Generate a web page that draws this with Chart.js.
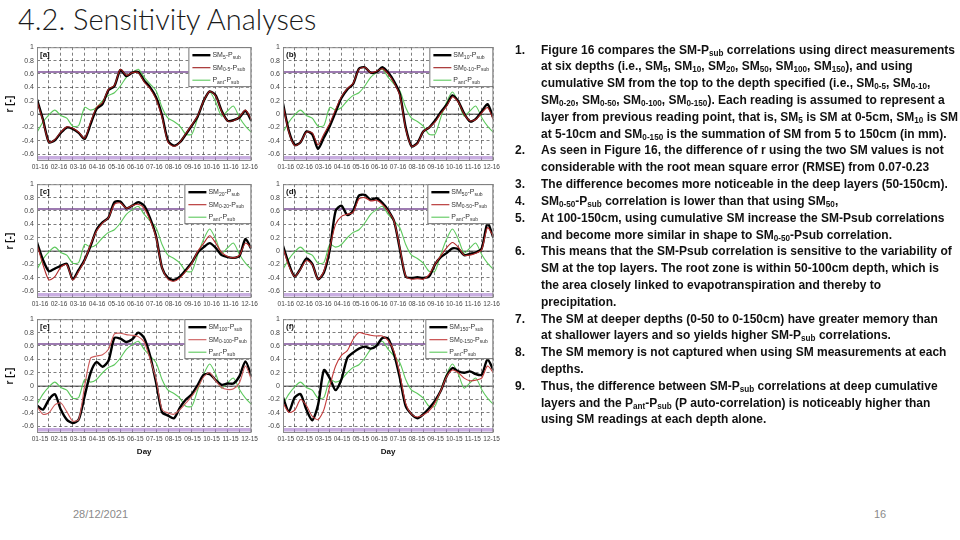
<!DOCTYPE html>
<html>
<head>
<meta charset="utf-8">
<script src="https://cdn.jsdelivr.net/npm/chart.js@4.4.0/dist/chart.umd.min.js"></script>
<style>
  body { margin: 0; width: 960px; height: 540px; background: #fff; position: relative; overflow: hidden; }
  .title { position: absolute; left: 18px; top: 1px; font-family: Lato, 'Open Sans', sans-serif; font-weight: 300; font-size: 29px; color: #1a1a1a; white-space: nowrap; }
  .panel { position: absolute; }
  .notes { position: absolute; left: 541px; top: 41.6px; font-family: 'Liberation Sans', sans-serif; font-weight: bold; font-size: 13.5px; line-height: 16.82px; color: #111; white-space: nowrap; transform-origin: 0 0; }
  .notes div { position: relative; height: 16.82px; }
  .notes .n { position: absolute; left: -26px; }
  .notes sub { font-size: 68%; vertical-align: -2px; line-height: 0; }
  .foot { position: absolute; top: 508px; font-family: 'Liberation Sans', sans-serif; font-size: 11px; color: #8a8a8a; }
</style>
</head>
<body>
<div class="title">4.2. Sensitivity Analyses</div>

<canvas id="pa" class="panel" width="260" height="132" style="left:0px;top:40px"></canvas>
<canvas id="pb" class="panel" width="240" height="132" style="left:262px;top:40px"></canvas>
<canvas id="pc" class="panel" width="260" height="132" style="left:0px;top:177px"></canvas>
<canvas id="pd" class="panel" width="240" height="132" style="left:262px;top:177px"></canvas>
<canvas id="pe" class="panel" width="260" height="145" style="left:0px;top:312px"></canvas>
<canvas id="pf" class="panel" width="240" height="145" style="left:262px;top:312px"></canvas>

<div class="notes" id="notes">
  <div><span class="n">1.</span><span class="t">Figure 16 compares the SM-P<sub>sub</sub> correlations using direct measurements</span></div>
  <div><span class="t">at six depths (i.e., SM<sub>5</sub>, SM<sub>10</sub>, SM<sub>20</sub>, SM<sub>50</sub>, SM<sub>100</sub>, SM<sub>150</sub>), and using</span></div>
  <div><span class="t">cumulative SM from the top to the depth specified (i.e., SM<sub>0-5</sub>, SM<sub>0-10</sub>,</span></div>
  <div><span class="t">SM<sub>0-20</sub>, SM<sub>0-50</sub>, SM<sub>0-100</sub>, SM<sub>0-150</sub>). Each reading is assumed to represent a</span></div>
  <div><span class="t" id="fitLine">layer from previous reading point, that is, SM<sub>5</sub> is SM at 0-5cm, SM<sub>10</sub> is SM</span></div>
  <div><span class="t">at 5-10cm and SM<sub>0-150</sub> is the summation of SM from 5 to 150cm (in mm).</span></div>
  <div><span class="n">2.</span><span class="t">As seen in Figure 16, the difference of r using the two SM values is not</span></div>
  <div><span class="t">considerable with the root mean square error (RMSE) from 0.07-0.23</span></div>
  <div><span class="n">3.</span><span class="t">The difference becomes more noticeable in the deep layers (50-150cm).</span></div>
  <div><span class="n">4.</span><span class="t">SM<sub>0-50</sub>-P<sub>sub</sub> correlation is lower than that using SM<sub>50</sub>,</span></div>
  <div><span class="n">5.</span><span class="t">At 100-150cm, using cumulative SM increase the SM-Psub correlations</span></div>
  <div><span class="t">and become more similar in shape to SM<sub>0-50</sub>-Psub correlation.</span></div>
  <div><span class="n">6.</span><span class="t">This means that the SM-Psub correlation is sensitive to the variability of</span></div>
  <div><span class="t">SM at the top layers. The root zone is within 50-100cm depth, which is</span></div>
  <div><span class="t">the area closely linked to evapotranspiration and thereby to</span></div>
  <div><span class="t">precipitation.</span></div>
  <div><span class="n">7.</span><span class="t">The SM at deeper depths (0-50 to 0-150cm) have greater memory than</span></div>
  <div><span class="t">at shallower layers and so yields higher SM-P<sub>sub</sub> correlations.</span></div>
  <div><span class="n">8.</span><span class="t">The SM memory is not captured when using SM measurements at each</span></div>
  <div><span class="t">depths.</span></div>
  <div><span class="n">9.</span><span class="t">Thus, the difference between SM-P<sub>sub</sub> correlations at deep cumulative</span></div>
  <div><span class="t">layers and the P<sub>ant</sub>-P<sub>sub</sub> (P auto-correlation) is noticeably higher than</span></div>
  <div><span class="t">using SM readings at each depth alone.</span></div>
</div>

<div class="foot" style="left:73px">28/12/2021</div>
<div class="foot" style="left:874px">16</div>

<script>
// squeeze the bold notes so the longest line spans the same width as on the slide
(function () {
  const notes = document.getElementById('notes');
  const w = document.getElementById('fitLine').getBoundingClientRect().width;
  const s = 417 / w;
  notes.style.transform = 'scaleX(' + s + ')';
  notes.querySelectorAll('.n').forEach(n => { n.style.left = (-26 / s) + 'px'; });
})();

// day of year for every sample (10-day steps)
const days = [0,10,20,30,40,50,60,70,80,90,100,110,120,130,140,150,160,170,180,
              190,200,210,220,230,240,250,260,270,280,290,300,310,320,330,340,350,360];

const monthTicks = [5,37,69,101,133,165,197,229,261,293,325,357];
const monthLabels16 = ['01-16','02-16','03-16','04-16','05-16','06-16','07-16','08-16','09-16','10-16','11-16','12-16'];
const monthLabels15 = ['01-15','02-15','03-15','04-15','05-15','06-15','07-15','08-15','09-15','10-15','11-15','12-15'];
const yTicks = [-0.6,-0.4,-0.2,0,0.2,0.4,0.6,0.8,1];

// significance levels
const sigUpper = 0.63;
const sigLower = -0.65;

// P_ant - P_sub (same in every panel)
const pantPsub = [-0.27,-0.12,-0.01,0.06,-0.02,-0.06,-0.18,-0.17,0.1,0.06,0.1,0.2,0.28,0.32,0.42,0.55,0.62,0.67,0.55,
                  0.45,0.35,0.1,-0.06,-0.11,-0.18,-0.3,-0.3,-0.05,0.18,0.33,0.18,-0.03,0.05,0.12,-0.05,-0.18,-0.27];

// SM at single depth - P_sub
const sm5   = [0.22,-0.08,-0.42,-0.39,-0.28,-0.2,-0.22,-0.28,-0.37,-0.15,0.08,0.15,0.36,0.42,0.66,0.57,0.62,0.63,0.5,
               0.4,0.25,-0.02,-0.4,-0.47,-0.42,-0.3,-0.17,-0.03,0.2,0.34,0.28,0.05,-0.1,-0.09,-0.05,0.05,-0.1];
const sm10  = [0.16,-0.25,-0.46,-0.42,-0.26,-0.3,-0.52,-0.35,-0.18,0.03,0.24,0.37,0.45,0.68,0.7,0.62,0.63,0.7,0.62,
               0.49,0.3,-0.2,-0.48,-0.43,-0.26,-0.2,-0.1,0.03,0.14,0.28,0.19,0.01,-0.11,-0.07,0.04,0.15,-0.06];
const sm20  = [0.13,-0.13,-0.3,-0.26,-0.22,-0.19,-0.42,-0.28,-0.13,0.08,0.32,0.43,0.5,0.73,0.74,0.64,0.68,0.73,0.68,
               0.49,0.22,-0.25,-0.4,-0.43,-0.38,-0.28,-0.17,-0.02,0.06,0.12,0.05,-0.06,-0.09,-0.1,-0.07,0.18,0.03];
const sm50  = [0.08,-0.19,-0.38,-0.26,-0.11,-0.19,-0.42,-0.32,0.02,0.6,0.68,0.54,0.6,0.83,0.84,0.77,0.79,0.72,0.61,
               0.45,0.03,-0.38,-0.4,-0.39,-0.4,-0.38,-0.2,-0.09,-0.03,0.04,0.03,-0.06,-0.04,-0.02,0.04,0.42,0.2];
const sm100 = [-0.29,-0.35,-0.2,-0.12,-0.35,-0.5,-0.55,-0.5,-0.15,0.2,0.36,0.29,0.38,0.72,0.71,0.66,0.7,0.8,0.72,
               0.45,0.05,-0.39,-0.44,-0.48,-0.32,-0.2,-0.12,0.02,0.17,0.18,0.09,0.02,0.04,0.04,0.15,0.37,0.15];
const sm150 = [-0.17,-0.38,-0.17,-0.12,-0.35,-0.51,-0.28,0.24,0.12,-0.06,0.1,0.42,0.5,0.56,0.59,0.56,0.6,0.72,0.71,
               0.48,0.12,-0.3,-0.42,-0.48,-0.42,-0.33,-0.22,-0.07,0.15,0.27,0.22,0.2,0.22,0.18,0.17,0.4,0.24];

// cumulative SM (0 to depth) - P_sub
const sm0to5   = [0.2,-0.1,-0.42,-0.38,-0.27,-0.19,-0.21,-0.27,-0.36,-0.12,0.1,0.17,0.37,0.43,0.67,0.58,0.62,0.62,0.48,
                  0.38,0.22,-0.05,-0.42,-0.48,-0.42,-0.29,-0.16,-0.02,0.2,0.34,0.27,0.04,-0.1,-0.1,-0.04,0.06,-0.08];
const sm0to10  = [0.14,-0.27,-0.47,-0.42,-0.27,-0.28,-0.46,-0.3,-0.14,0.07,0.26,0.38,0.46,0.67,0.7,0.62,0.64,0.68,0.6,
                  0.47,0.28,-0.22,-0.48,-0.44,-0.26,-0.2,-0.12,0.01,0.12,0.26,0.18,0.0,-0.1,-0.08,0.02,0.1,-0.08];
const sm0to20  = [0.1,-0.2,-0.43,-0.38,-0.24,-0.2,-0.43,-0.3,-0.14,0.1,0.3,0.42,0.5,0.7,0.72,0.64,0.68,0.7,0.64,
                  0.46,0.2,-0.25,-0.42,-0.45,-0.4,-0.3,-0.18,0.0,0.12,0.23,0.12,-0.02,-0.08,-0.1,-0.06,0.12,0.05];
const sm0to50  = [0.05,-0.22,-0.38,-0.27,-0.14,-0.2,-0.42,-0.3,0.05,0.4,0.52,0.55,0.58,0.78,0.8,0.75,0.76,0.7,0.6,
                  0.45,0.05,-0.37,-0.42,-0.41,-0.42,-0.35,-0.2,-0.07,0.05,0.13,0.06,-0.06,-0.06,-0.03,0.02,0.35,0.22];
const sm0to100 = [-0.3,-0.42,-0.4,-0.28,-0.25,-0.38,-0.52,-0.5,0.0,0.42,0.45,0.47,0.55,0.78,0.79,0.77,0.76,0.74,0.66,
                  0.4,0.1,-0.35,-0.4,-0.42,-0.35,-0.25,-0.15,-0.02,0.14,0.2,0.08,-0.02,-0.05,-0.04,0.05,0.3,0.1];
const sm0to150 = [-0.25,-0.39,-0.36,-0.2,-0.29,-0.45,-0.5,-0.35,0.0,0.3,0.46,0.53,0.7,0.8,0.78,0.76,0.75,0.75,0.68,
                  0.52,0.18,-0.26,-0.42,-0.46,-0.43,-0.37,-0.25,-0.07,0.14,0.24,0.2,0.12,0.08,0.09,0.12,0.3,0.2];

const panels = [
  { id: 'pa', tag: '[a]', sm: sm5,   cum: sm0to5,   smLbl: 'SM_{5}-P_{sub}',   cumLbl: 'SM_{0-5}-P_{sub}',   months: monthLabels16, left: true,  bottom: false, red: '#9c1c1c', lw: 63 },
  { id: 'pb', tag: '(b)', sm: sm10,  cum: sm0to10,  smLbl: 'SM_{10}-P_{sub}',  cumLbl: 'SM_{0-10}-P_{sub}',  months: monthLabels16, left: false, bottom: false, red: '#9c1c1c', lw: 64 },
  { id: 'pc', tag: '[c]', sm: sm20,  cum: sm0to20,  smLbl: 'SM_{20}-P_{sub}',  cumLbl: 'SM_{0-20}-P_{sub}',  months: monthLabels16, left: true,  bottom: false, red: '#b32a2a', lw: 67 },
  { id: 'pd', tag: '(d)', sm: sm50,  cum: sm0to50,  smLbl: 'SM_{50}-P_{sub}',  cumLbl: 'SM_{0-50}-P_{sub}',  months: monthLabels16, left: false, bottom: false, red: '#b32a2a', lw: 66 },
  { id: 'pe', tag: '[e]', sm: sm100, cum: sm0to100, smLbl: 'SM_{100}-P_{sub}', cumLbl: 'SM_{0-100}-P_{sub}', months: monthLabels15, left: true,  bottom: true,  red: '#cc5a5a', lw: 67 },
  { id: 'pf', tag: '(f)', sm: sm150, cum: sm0to150, smLbl: 'SM_{150}-P_{sub}', cumLbl: 'SM_{0-150}-P_{sub}', months: monthLabels15, left: false, bottom: true,  red: '#c23a3a', lw: 68 }
];

const GREEN = '#5cc85c';
const TXT = "'Liberation Sans', Arial, sans-serif";

function drawRich(ctx, str, x, y, size) {
  const parts = str.split(/(_\{[^}]*\})/).filter(Boolean);
  let cx = x;
  parts.forEach(p => {
    const sub = p.startsWith('_{');
    const t = sub ? p.slice(2, -1) : p;
    const s = sub ? size * 0.72 : size;
    ctx.font = s + 'px ' + TXT;
    ctx.fillText(t, cx, sub ? y + size * 0.3 : y);
    cx += ctx.measureText(t).width;
  });
}

const panelDecor = {
  id: 'panelDecor',
  beforeDatasetsDraw(chart) {
    const { ctx, chartArea: a, scales } = chart;
    const y0 = scales.y.getPixelForValue(0);
    ctx.save();
    ctx.strokeStyle = '#3a3a3a';
    ctx.lineWidth = 1;
    ctx.beginPath();
    ctx.moveTo(a.left, y0);
    ctx.lineTo(a.right, y0);
    ctx.stroke();
    ctx.restore();
  },
  afterDatasetsDraw(chart, args, opts) {
    const { ctx, chartArea: a } = chart;
    ctx.save();
    // frame
    ctx.strokeStyle = '#8a8a8a';
    ctx.lineWidth = 1;
    ctx.strokeRect(a.left + 0.5, a.top + 0.5, a.width - 1, a.height - 1);
    // panel tag
    ctx.fillStyle = '#111';
    ctx.font = 'bold 8px ' + TXT;
    ctx.textBaseline = 'top';
    ctx.fillText(opts.tag, a.left + 3, a.top + 4);
    // legend box
    const w = opts.legendWidth, h = 40;
    const x0 = a.right - w, yTop = a.top;
    ctx.fillStyle = '#fff';
    ctx.fillRect(x0, yTop, w, h);
    ctx.strokeStyle = '#555';
    ctx.lineWidth = 0.8;
    ctx.strokeRect(x0 + 0.5, yTop + 0.5, w - 1, h - 1);
    ctx.textBaseline = 'middle';
    opts.entries.forEach((e, i) => {
      const yy = yTop + 8 + i * 12.5;
      ctx.strokeStyle = e.color;
      ctx.lineWidth = e.width;
      ctx.beginPath();
      ctx.moveTo(x0 + 4, yy);
      ctx.lineTo(x0 + 22, yy);
      ctx.stroke();
      ctx.fillStyle = '#333';
      drawRich(ctx, e.label, x0 + 24, yy, 7);
    });
    ctx.restore();
  }
};

function pts(vals) {
  return days.map((d, i) => ({ x: d, y: vals[i] }));
}

function flat(v) {
  return [{ x: days[0], y: v }, { x: days[days.length - 1], y: v }];
}

panels.forEach(p => {
  new Chart(document.getElementById(p.id), {
    type: 'line',
    data: {
      datasets: [
        { label: p.cumLbl, data: pts(p.cum), borderColor: p.red, borderWidth: 1.1, order: 0 },
        { label: p.smLbl, data: pts(p.sm), borderColor: '#000', borderWidth: 2.4, order: 1 },
        { label: 'P_{ant}-P_{sub}', data: pts(pantPsub), borderColor: GREEN, borderWidth: 1.1, order: 2 },
        { label: 'upper', data: flat(sigUpper), borderColor: 'rgba(110,60,140,0.9)', borderWidth: 1.5, order: 3 },
        { label: 'lower', data: flat(sigLower), borderColor: 'rgba(165,120,205,0.6)', borderWidth: 3.5, order: 3 }
      ]
    },
    options: {
      responsive: false,
      animation: false,
      devicePixelRatio: 1,
      elements: { point: { radius: 0 }, line: { tension: 0.25 } },
      layout: { padding: { top: 5, right: p.left ? 3 : 2, left: 0, bottom: 0 } },
      plugins: {
        legend: { display: false },
        tooltip: { enabled: false },
        panelDecor: {
          tag: p.tag,
          legendWidth: p.lw,
          entries: [
            { label: p.smLbl, color: '#000', width: 2.4 },
            { label: p.cumLbl, color: p.red, width: 1.1 },
            { label: 'P_{ant}-P_{sub}', color: GREEN, width: 1.1 }
          ]
        }
      },
      scales: {
        x: {
          type: 'linear', position: 'bottom', min: 0, max: 360,
          ticks: { display: false, stepSize: 20 },
          grid: { color: 'rgba(40,40,40,0.75)', lineWidth: 0.8, drawTicks: false },
          border: { display: false, dash: [3, 2.5] },
          afterFit: s => { s.height = 0; }
        },
        x2: {
          type: 'linear', position: 'bottom', min: 0, max: 360,
          grid: { display: false, drawTicks: false },
          border: { display: false },
          afterBuildTicks: s => { s.ticks = monthTicks.map(v => ({ value: v })); },
          ticks: {
            autoSkip: false, maxRotation: 0, padding: 2, color: '#444',
            font: { size: 6.5, family: TXT },
            callback: (v, i) => p.months[i]
          },
          title: { display: p.bottom, text: 'Day', color: '#111', font: { size: 8, weight: 'bold', family: TXT }, padding: { top: 2, bottom: 0 } },
          afterFit: s => { s.height = p.bottom ? 24 : 11; }
        },
        y: {
          min: -0.7, max: 1,
          afterBuildTicks: s => { s.ticks = yTicks.map(v => ({ value: v })); },
          ticks: {
            padding: 3, color: '#444',
            font: { size: 7, family: TXT },
            callback: v => (Math.round(v * 10) / 10).toString()
          },
          grid: { color: 'rgba(40,40,40,0.75)', lineWidth: 0.8, drawTicks: false },
          border: { display: false, dash: [3, 2.5] },
          title: { display: p.left, text: 'r [-]', color: '#111', font: { size: 10, weight: 'bold', family: TXT }, padding: { top: 4, bottom: 0 } },
          afterFit: s => { s.width = p.left ? 37 : 21; }
        }
      }
    },
    plugins: [panelDecor]
  });
});
</script>
</body>
</html>
